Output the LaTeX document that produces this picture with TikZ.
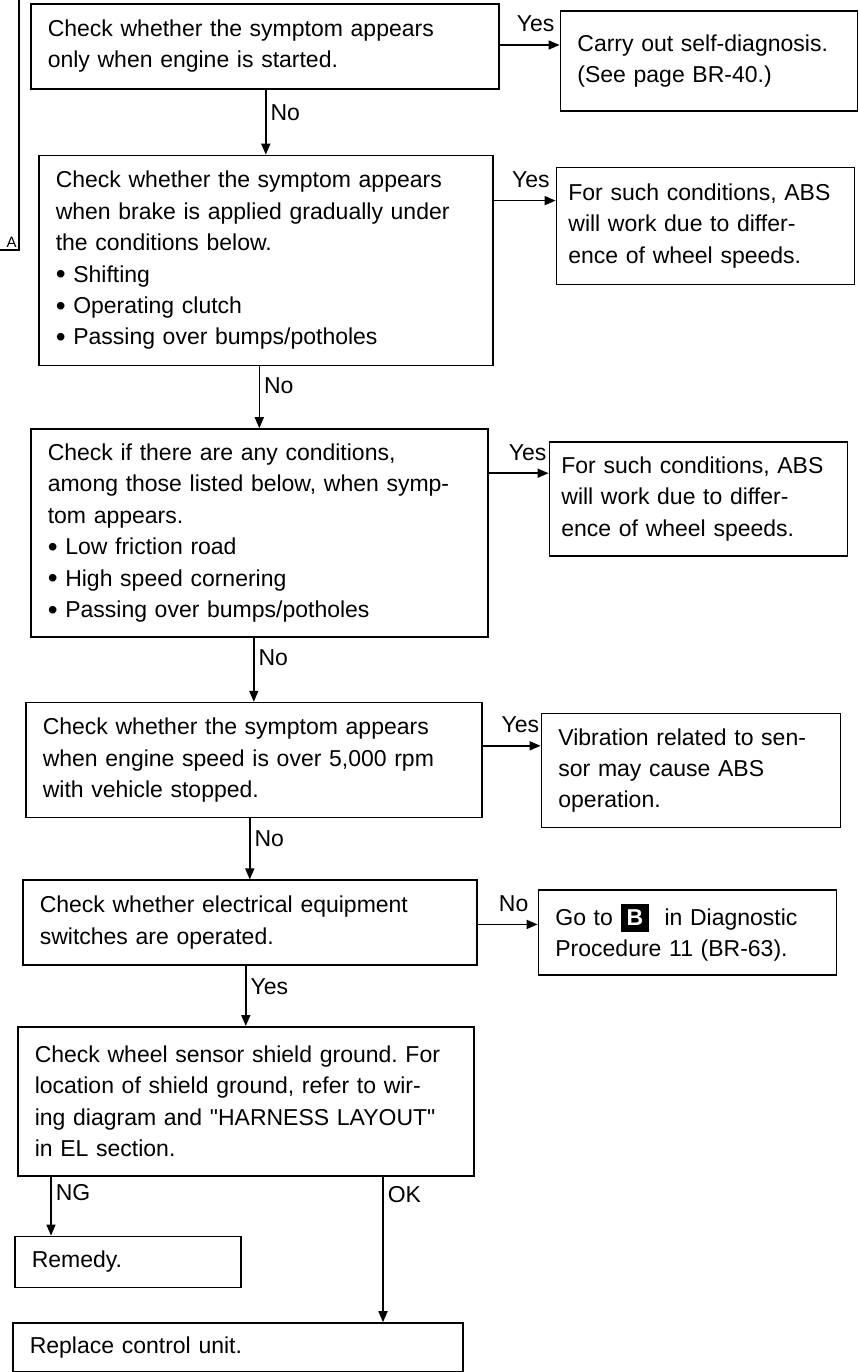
\documentclass[tikz,border=0pt]{standalone}
\usepackage{fontspec}
\setmainfont{Liberation Sans}
\usetikzlibrary{arrows.meta,positioning}
\newcommand{\bul}{\raisebox{-0.8pt}{\fontsize{14}{14}\selectfont\textbullet}\ }

\begin{document}
\frenchspacing
\begin{tikzpicture}[
  node distance=31pt,
  box/.style={draw, line width=0.8pt, align=left, inner xsep=8.5pt, inner ysep=3pt, text width=#1, font=\fontsize{11.5}{15.7}\selectfont},
  side/.style={anchor=north west},
  arr/.style={-{Triangle[length=5.5pt,width=4.5pt]}, line width=0.8pt},
  lab/.style={inner sep=2pt, font=\fontsize{11.5}{14}\selectfont}
]
\useasboundingbox (0,0) rectangle (429pt,-686pt);

% left column
\node[box=217pt, minimum height=42.5pt, anchor=north west] (b1) at (15pt,-1.5pt) {Check whether the symptom appears\\ only when engine is started.};
\node[box=210pt, minimum height=105pt, below=32.5pt of b1, xshift=0.5pt] (b2) {Check whether the symptom appears\\ when brake is applied gradually under\\ the conditions below.\\ \bul Shifting\\ \bul Operating clutch\\ \bul Passing over bumps/potholes};
\node[box=211.5pt, minimum height=104pt, below=31pt of b2, xshift=-3.25pt] (b3) {Check if there are any conditions,\\ among those listed below, when symp-\\ tom appears.\\ \bul Low friction road\\ \bul High speed cornering\\ \bul Passing over bumps/potholes};
\node[box=211pt, minimum height=57.5pt, below=32pt of b3, xshift=-2.75pt] (b4) {Check whether the symptom appears\\ when engine speed is over 5,000 rpm\\ with vehicle stopped.};
\node[box=210pt, minimum height=42.5pt, below=30.5pt of b4, xshift=-2pt] (b5) {Check whether electrical equipment\\ switches are operated.};
\node[box=211pt, minimum height=74.5pt, below=30pt of b5, xshift=-2pt] (b6) {Check wheel sensor shield ground. For\\ location of shield ground, refer to wir-\\ ing diagram and \textquotedbl HARNESS LAYOUT\textquotedbl\\ in EL section.};
\node[box=96pt, minimum height=25.5pt, below=29.5pt of b6.south west, side, xshift=-1.5pt] (remedy) {Remedy.};
\node[box=208pt, minimum height=24.5pt, below=17pt of remedy.south west, side, xshift=-1pt] (replace) {Replace control unit.};

% right column
\node[box=131.5pt, minimum height=50pt, right=30pt of b1.north east, side, yshift=-3.5pt] (b1r) {Carry out self-diagnosis.\\ (See page BR-40.)};
\node[box=137pt, inner xsep=6pt, minimum height=58.5pt, right=31pt of b2.north east, side, yshift=-6pt] (b2r) {For such conditions, ABS\\ will work due to differ-\\ ence of wheel speeds.};
\node[box=137pt, inner xsep=6pt, minimum height=57pt, right=30pt of b3.north east, side, yshift=-6.5pt] (b3r) {For such conditions, ABS\\ will work due to differ-\\ ence of wheel speeds.};
\node[box=132.5pt, minimum height=57pt, right=29pt of b4.north east, side, yshift=-5.5pt] (b4r) {Vibration related to sen-\\ sor may cause ABS\\ operation.};
\node[box=132pt, minimum height=42.5pt, right=30pt of b5.north east, side, yshift=-5pt] (b5r) {Go to \colorbox{black}{\textcolor{white}{\bfseries B}}\ \ in Diagnostic\\ Procedure 11 (BR-63).};

% connector coming in from A
\coordinate (atop) at (9.5pt,0);
\coordinate (acorner) at (9.5pt,-125pt);
\coordinate (aend) at (0,-125pt);
\draw[line width=0.8pt] (atop) -- (acorner) -- (aend);
\node[anchor=south east, inner sep=1pt, font=\fontsize{7.5}{9}\selectfont] (alab) at (acorner) {A};

% yes / no branches
\coordinate (y1) at ([yshift=-21pt]b1.north east);
\coordinate (y2) at ([yshift=-23pt]b2.north east);
\coordinate (y3) at ([yshift=-22.5pt]b3.north east);
\coordinate (y4) at ([yshift=-22pt]b4.north east);
\coordinate (y5) at ([yshift=-22.5pt]b5.north east);
\draw[arr] (y1) -- node[lab, pos=0.6, above=4pt]{Yes} (y1 -| b1r.west);
\draw[arr] (y2) -- node[lab, pos=0.6, above=4pt]{Yes} (y2 -| b2r.west);
\draw[arr] (y3) -- node[lab, pos=0.65, above=4pt]{Yes} (y3 -| b3r.west);
\draw[arr] (y4) -- node[lab, pos=0.65, above=4pt]{Yes} (y4 -| b4r.west);
\draw[arr] (y5) -- node[lab, pos=0.6, above=4pt]{No} (y5 -| b5r.west);

\draw[arr] (b1.south -| b2.north) -- node[lab, pos=0, anchor=north west, yshift=-5pt]{No} (b2.north);
\draw[arr] (b2.south -| b3.north) -- node[lab, pos=0, anchor=north west, yshift=-3.5pt]{No} (b3.north);
\draw[arr] (b3.south -| b4.north) -- node[lab, pos=0, anchor=north west, yshift=-3.5pt]{No} (b4.north);
\draw[arr] (b4.south -| b5.north) -- node[lab, pos=0, anchor=north west, yshift=-3.5pt]{No} (b5.north);
\draw[arr] (b5.south -| b6.north) -- node[lab, pos=0, anchor=north west, yshift=-4pt]{Yes} (b6.north);

\coordinate (ng) at ([xshift=17pt]b6.south west);
\coordinate (ok) at ([xshift=183pt]b6.south west);
\draw[arr] (ng) -- node[lab, pos=0, anchor=north west, yshift=-1.5pt]{NG} (ng |- remedy.north);
\draw[arr] (ok) -- node[lab, pos=0, anchor=north west, yshift=-2.5pt]{OK} (ok |- replace.north);
\end{tikzpicture}
\end{document}
